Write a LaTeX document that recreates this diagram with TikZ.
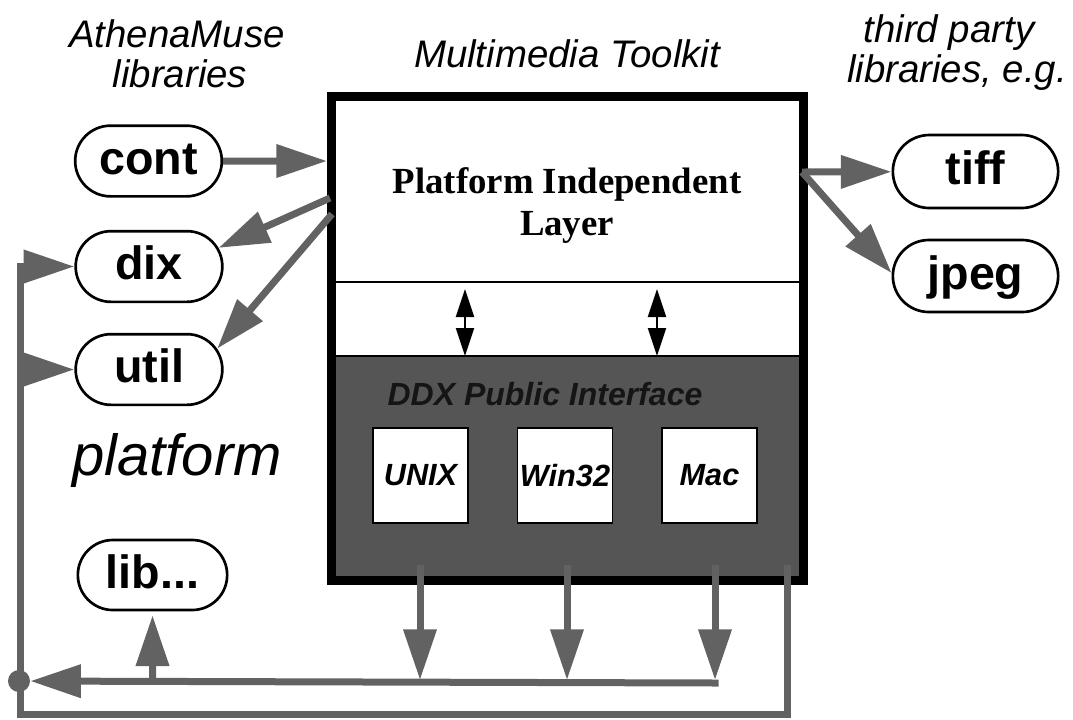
\documentclass[tikz,border=0pt]{standalone}
\usepackage{fontspec}
\setmainfont{Liberation Sans}
\newfontfamily\timesfont{Liberation Serif}
\usetikzlibrary{arrows.meta,shapes.misc}
\definecolor{wire}{HTML}{626262}
\definecolor{ddxfill}{HTML}{555555}
\definecolor{ddxtext}{HTML}{151515}

\begin{document}
\begin{tikzpicture}[x=0.75pt,y=-0.75pt,
  pill/.style={rounded rectangle, draw, line width=2pt, fill=white, inner sep=0pt,
    font=\bfseries\fontsize{35}{40}\selectfont, text height=24pt, text depth=4.5pt,
    minimum width=110pt, minimum height=53pt},
  title/.style={font=\itshape\fontsize{28.8}{32}\selectfont, anchor=base, inner sep=0pt},
  wirearrow/.style={color=wire, line width=5.25pt, -{Triangle[length=38pt,width=24pt]}},
  osbox/.style={draw, line width=1.2pt, fill=white, minimum width=71.25pt,
    minimum height=71.25pt, inner sep=0pt, font=\bfseries\itshape\fontsize{23}{26}\selectfont},
  duplex/.style={line width=1.5pt,
    {Triangle[length=21pt,width=13.5pt]}-{Triangle[length=21pt,width=13.5pt]}},
]
\useasboundingbox (0,0) rectangle (1073,719);

% headings
\node[title] (tAM)  at (177,47) {AthenaMuse};
\node[title] (tLib) at (180,87) {libraries};
\node[title] (tMT)  at (567,67) {Multimedia Toolkit};
\node[title] (tTP)  at (949,42) {third party};
\node[title] (tTP2) at (957,82) {libraries, e.g.};
\node[font=\itshape\fontsize{43.5}{48}\selectfont, anchor=base west, inner sep=0pt]
  (plat) at (72,475) {platform};

% toolkit: shaded DDX layer, divider, outer frame
\node[draw, line width=0.9pt, fill=ddxfill, minimum width=354pt, minimum height=168.4pt,
  inner sep=0pt] (ddx) at (567.5,468.25) {};
\draw[line width=1pt] (331.5,282) -- (803.5,282);
\node[draw, line width=6.75pt, minimum width=354pt, minimum height=363pt, inner sep=0pt]
  (tk) at (567.5,338.5) {};

\node[font=\timesfont\bfseries\fontsize{27.6}{31.5}\selectfont, anchor=base, inner sep=0pt]
  (pil1) at (567,193) {Platform Independent};
\node[font=\timesfont\bfseries\fontsize{27.6}{31.5}\selectfont, anchor=base, inner sep=0pt]
  (pil2) at (567,235) {Layer};
\node[font=\bfseries\itshape\fontsize{24}{28}\selectfont, text=ddxtext, anchor=base,
  inner sep=0pt] (ddxl) at (545,405) {DDX Public Interface};

\node[osbox] (unix) at (420.5,475.5) {UNIX};
\node[osbox] (win)  at (565,475.5) {Win32};
\node[osbox] (mac)  at (709.5,475.5) {Mac};

% links between the two layers
\coordinate (da1) at (465,289); \coordinate (db1) at (465,356);
\coordinate (da2) at (657,289); \coordinate (db2) at (657,356);
\draw[duplex] (da1) -- (db1);
\draw[duplex] (da2) -- (db2);

% libraries
\node[pill] (cont) at (148.5,161) {cont};
\node[pill] (dix)  at (149,266.5) {dix};
\node[pill] (util) at (149,369.5) {util};
\node[pill, minimum width=112pt, minimum height=52.5pt] (lib) at (152.5,575) {lib...};
\node[pill, minimum width=124pt, minimum height=54.75pt] (tiff) at (975.5,171.5) {tiff};
\node[pill, minimum width=124pt, minimum height=54pt] (jpeg) at (975.5,276) {jpeg};

% calls into and out of the toolkit
\draw[wirearrow] (cont) -- (cont -| tk.west);
\coordinate (o1) at (330,198);
\coordinate (o2) at (332,214);
\draw[wirearrow] (o1) -- (dix.15);
\draw[wirearrow] (o2) -- (util.17);
\coordinate (o3) at (802,172);
\draw[wirearrow] (o3) -- (tiff);
\draw[wirearrow] (o3) -- (jpeg.178);

% platform outputs onto the bus
\coordinate (s1) at (420,565); \coordinate (e1) at (420,680);
\coordinate (s2) at (567,565); \coordinate (e2) at (567,680);
\coordinate (s3) at (715,565); \coordinate (e3) at (715,680);
\draw[wirearrow] (s1) -- (e1);
\draw[wirearrow] (s2) -- (e2);
\draw[wirearrow] (s3) -- (e3);

\node[circle, fill=wire, minimum size=16.5pt, inner sep=0pt] (jn) at (19,681) {};
\coordinate (busR) at (718.5,683);
\draw[wirearrow] (busR) -- (jn);
\coordinate (lb) at (152.5,683);
\draw[wirearrow, shorten >=3pt] (lb) -- (lib);

% feedback loop back to the libraries
\coordinate (r0) at (787,565);
\coordinate (c1) at (787,714);
\coordinate (c2) at (20,714);
\draw[wirearrow] (r0) -- (c1) -- (c2) -- (c2 |- dix.west) -- (dix.west);
\draw[wirearrow] (c2 |- util.west) -- (util.west);
\end{tikzpicture}
\end{document}
